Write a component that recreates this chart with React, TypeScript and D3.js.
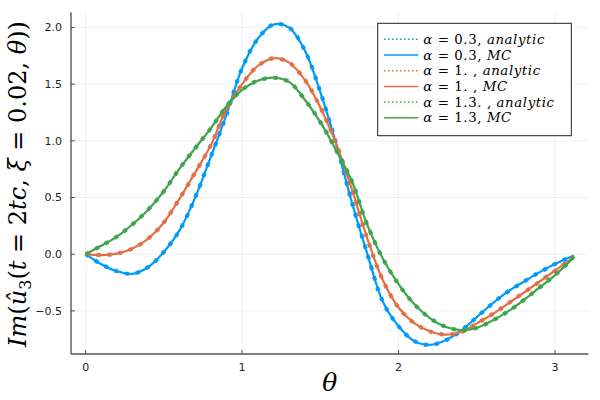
import * as d3 from 'd3';

// theta grid and curves
const theta = [0, 0.1, 0.2, 0.3, 0.4, 0.5, 0.6, 0.7, 0.8, 0.9, 1.0, 1.1, 1.2, 1.3, 1.4, 1.5, 1.6,
  1.7, 1.8, 1.9, 2.0, 2.1, 2.2, 2.3, 2.4, 2.5, 2.6, 2.7, 2.8, 2.9, 3.0, 3.1, 3.12];

const alpha03 = [0, -0.088, -0.15, -0.173, -0.113, 0.02, 0.21, 0.5, 0.86, 1.23, 1.64, 1.9, 2.025,
  2.0, 1.8, 1.43, 0.98, 0.465, 0.005, -0.42, -0.635, -0.765, -0.8, -0.76, -0.675, -0.555, -0.435,
  -0.328, -0.243, -0.16, -0.087, -0.025, -0.015];

const alpha10 = [0, -0.008, 0.005, 0.05, 0.138, 0.28, 0.49, 0.72, 0.96, 1.28, 1.5, 1.66, 1.728,
  1.69, 1.54, 1.295, 0.98, 0.58, 0.14, -0.23, -0.47, -0.607, -0.68, -0.71, -0.687, -0.61, -0.53,
  -0.436, -0.34, -0.243, -0.145, -0.045, -0.02];

const alpha13 = [0, 0.074, 0.155, 0.264, 0.393, 0.555, 0.755, 0.935, 1.11, 1.305, 1.45, 1.53, 1.557,
  1.52, 1.365, 1.165, 0.92, 0.65, 0.26, -0.04, -0.265, -0.44, -0.563, -0.64, -0.67, -0.65, -0.585,
  -0.505, -0.405, -0.295, -0.184, -0.055, -0.02];

const xTickValues = [0, 1, 2, 3];
const yTickValues = [-0.5, 0, 0.5, 1, 1.5, 2];

const series = [
  { alpha: '0.3', tag: 'analytic', sep: ', ', values: alpha03, color: '#009AFA', dotted: true },
  { alpha: '0.3', tag: 'MC', sep: ', ', values: alpha03, color: '#009AFA', dotted: false },
  { alpha: '1.', tag: 'analytic', sep: ' , ', values: alpha10, color: '#E36F47', dotted: true },
  { alpha: '1.', tag: 'MC', sep: ' , ', values: alpha10, color: '#E36F47', dotted: false },
  { alpha: '1.3.', tag: 'analytic', sep: ' , ', values: alpha13, color: '#3EA44E', dotted: true },
  { alpha: '1.3', tag: 'MC', sep: ', ', values: alpha13, color: '#3EA44E', dotted: false },
];

const left = 71;
const right = 588.4;
const top = 12.3;
const bottom = 354;

const serif = '"DejaVu Serif", "Liberation Serif", serif';
const sans = '"DejaVu Sans", sans-serif';

const App = () => {
  const x = d3.scaleLinear().domain([-0.0936, 3.2136]).range([left, right]);
  const y = d3.scaleLinear().domain([-0.8803, 2.1337]).range([bottom, top]);

  const line = d3.line<number>()
    .x((_, i) => x(theta[i]))
    .y(d => y(d))
    .curve(d3.curveCatmullRom);

  const legendX = 377.7;
  const legendY = 23.3;
  const rowH = 15.7;

  return (
    <svg width={600} height={400} style={{ display: 'block', position: 'absolute', left: 0, top: 0, background: '#fff' }}>
      {/* grid */}
      {xTickValues.map(v => (
        <line key={'gx' + v} x1={x(v)} x2={x(v)} y1={top} y2={bottom} stroke="#000" strokeOpacity={0.08} strokeWidth={0.8} />
      ))}
      {yTickValues.map(v => (
        <line key={'gy' + v} x1={left} x2={right} y1={y(v)} y2={y(v)} stroke="#000" strokeOpacity={0.08} strokeWidth={0.8} />
      ))}

      {/* curves */}
      {series.map((s, i) => (
        <path key={i} d={line(s.values) || undefined} fill="none" stroke={s.color}
          strokeWidth={s.dotted ? 4 : 2.2}
          strokeDasharray={s.dotted ? '4 7' : undefined} />
      ))}

      {/* axes */}
      <line x1={left} x2={right} y1={bottom} y2={bottom} stroke="#555" strokeWidth={1.4} />
      <line x1={left} x2={left} y1={top} y2={bottom} stroke="#555" strokeWidth={1.4} />

      {xTickValues.map(v => (
        <g key={'tx' + v} transform={`translate(${x(v)}, ${bottom})`}>
          <line y2={-4} stroke="#555" />
          <text y={17} textAnchor="middle" fontFamily={sans} fontSize={11} fill="#222">{v}</text>
        </g>
      ))}
      {yTickValues.map(v => (
        <g key={'ty' + v} transform={`translate(${left}, ${y(v)})`}>
          <line x2={4} stroke="#555" />
          <text x={-9} dy="0.35em" textAnchor="end" fontFamily={sans} fontSize={11} fill="#222">
            {v < 0 ? '\u2212' + d3.format('.1f')(-v) : d3.format('.1f')(v)}
          </text>
        </g>
      ))}

      {/* axis titles */}
      <text x={(left + right) / 2} y={391} textAnchor="middle" fontFamily={serif} fontSize={25} fontStyle="italic">θ</text>
      <text transform="translate(26, 184) rotate(-90)" textAnchor="middle" fontFamily={serif} fontSize={24}>
        <tspan fontStyle="italic">Im</tspan>(<tspan fontStyle="italic">û</tspan>
        <tspan fontSize={16} dy={5}>3</tspan>
        <tspan dy={-5}>(</tspan><tspan fontStyle="italic">t</tspan> = 2<tspan fontStyle="italic">tc</tspan>, <tspan fontStyle="italic">ξ</tspan> = 0.02, <tspan fontStyle="italic">θ</tspan>))
      </text>

      {/* legend */}
      <rect x={legendX} y={legendY} width={193.6} height={112.4} fill="#fff" stroke="#222" strokeWidth={1} />
      {series.map((s, i) => {
        const cy = 39.3 + i * rowH;
        return (
          <g key={'lg' + i}>
            <line x1={384} x2={418.3} y1={cy} y2={cy} stroke={s.color} strokeWidth={1.5}
              strokeDasharray={s.dotted ? '1.5 2.5' : undefined} />
            <text x={423.3} y={cy} dy="0.34em" fontFamily={serif} fontSize={13.3} letterSpacing={0.6}>
              <tspan fontStyle="italic">α</tspan> = {s.alpha}{s.sep}<tspan fontStyle="italic">{s.tag}</tspan>
            </text>
          </g>
        );
      })}
    </svg>
  );
};

export default App;
